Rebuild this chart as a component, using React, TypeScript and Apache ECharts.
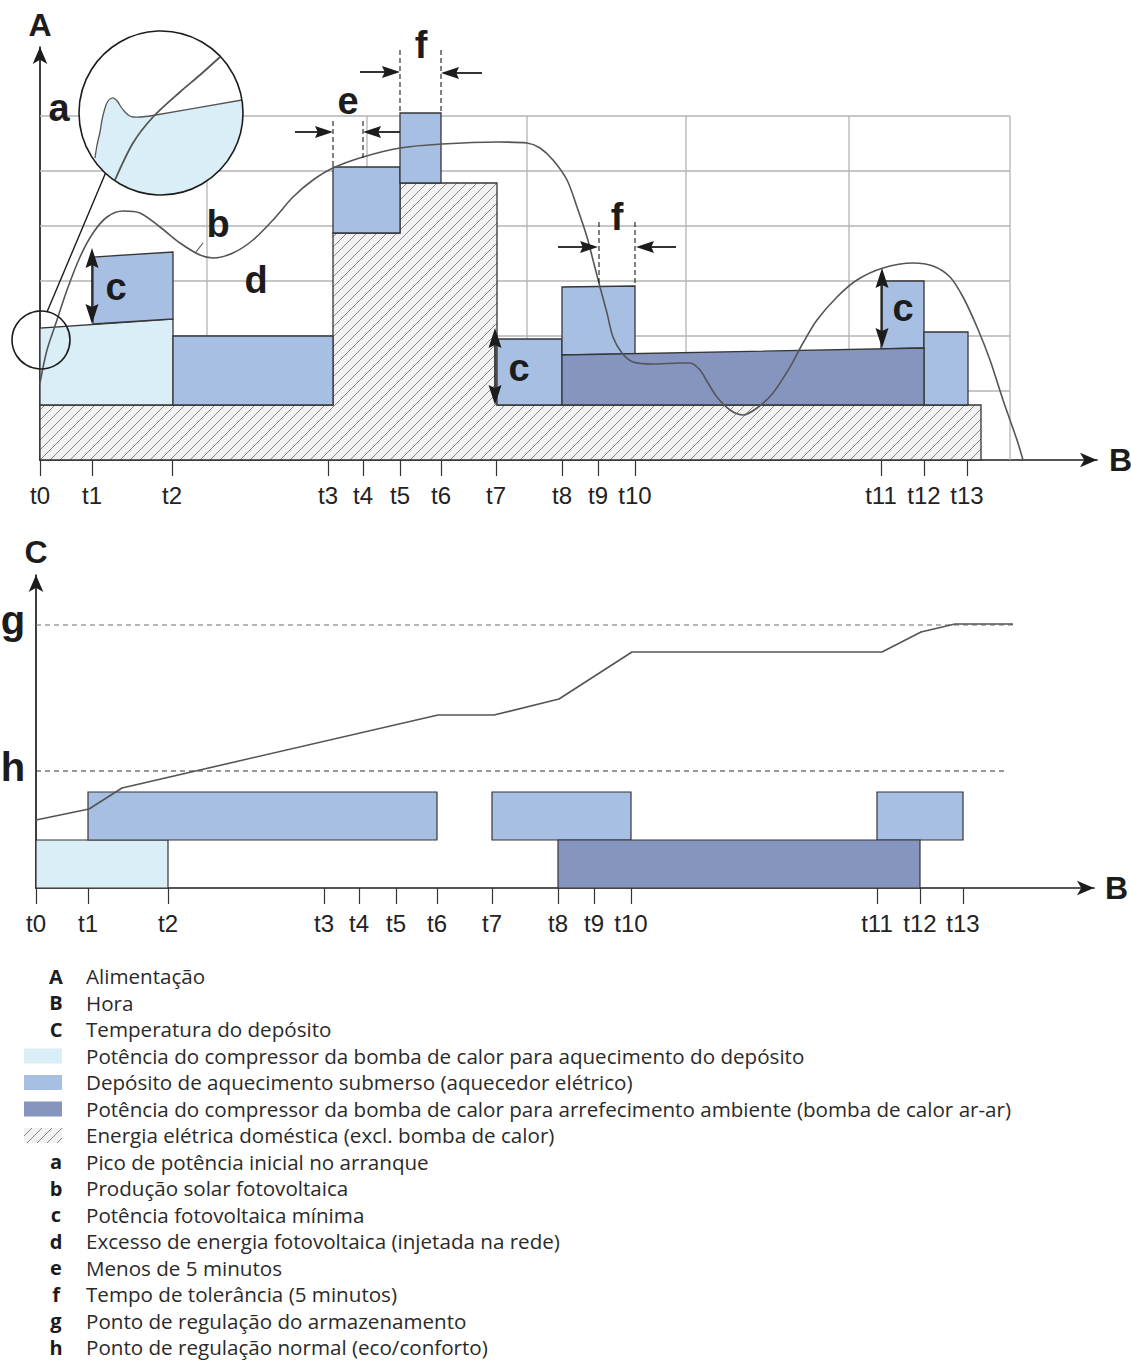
import React, { useEffect, useRef } from 'react';
import * as echarts from 'echarts';

// ---------- shared time ticks ----------
const tickValues = [0, 52, 132, 288, 323, 360, 401, 456, 522, 558, 595, 841, 884, 927];
const tickLabels = ['t0', 't1', 't2', 't3', 't4', 't5', 't6', 't7', 't8', 't9', 't10', 't11', 't12', 't13'];

// ---------- power chart (A vs B) ----------
const householdLoad = [[0, 0], [0, 55], [293, 55], [293, 227], [360, 227], [360, 277], [457, 277], [457, 55], [941, 55], [941, 0]];
const hpHeatingPower = [[0, 55], [0, 132], [133, 141], [133, 55]];
const heaterPower = [
  [[53, 136], [53, 203], [133, 208], [133, 141]],
  [[133, 55], [133, 124], [293, 124], [293, 55]],
  [[293, 227], [293, 293], [360, 293], [360, 227]],
  [[360, 277], [360, 347], [401, 347], [401, 277]],
  [[457, 55], [457, 121], [522, 121], [522, 55]],
  [[522, 105], [522, 173], [595, 174], [595, 106]],
  [[841, 111], [841, 179], [884, 179], [884, 112]],
  [[884, 55], [884, 128], [928, 128], [928, 55]],
];
const hpCoolingPower = [[522, 55], [522, 105], [884, 112], [884, 55]];
const pvProduction = [
  [0, 77], [7, 110], [17, 140], [27, 170], [40, 203], [53, 227], [67, 243], [83, 249], [100, 247],
  [120, 233], [140, 217], [160, 205], [173, 202], [193, 207], [213, 220], [233, 240], [253, 263],
  [273, 280], [293, 292], [323, 303], [360, 312], [402, 316], [457, 318], [487, 317], [500, 312],
  [513, 300], [527, 280], [537, 253], [547, 223], [553, 200], [560, 173], [567, 147], [573, 123],
  [582, 107], [593, 98], [613, 96], [640, 97], [650, 97], [660, 90], [668, 77], [677, 63], [690, 50],
  [703, 45], [717, 52], [733, 67], [750, 93], [763, 117], [777, 140], [797, 163], [817, 180],
  [843, 192], [873, 197], [893, 194], [910, 183], [923, 163], [937, 133], [950, 100], [963, 60],
  [977, 20], [983, 0],
];
const gridRows = [69, 124, 179, 234, 289, 344];
const gridCols = [167, 327, 487, 646, 809, 970];
const gridExtentX = 970;
const gridExtentY = 344;

// magnified start-up detail
const startupPeakZoom = [
  [55, 302], [57, 315], [60, 328], [62, 340], [65, 352], [68, 359], [72, 362], [75, 361], [78, 358],
  [81, 353], [85, 348], [89, 344.5], [93, 343], [101, 343], [110, 344], [202, 360],
];
const pvZoom = [[75, 280], [93, 317], [113, 343], [140, 368], [160, 385], [180, 403]];
const zoomCenter = [121, 347];
const zoomRadius = 82;
const spotCenter = [1, 120];
const spotRadius = 29;
const connector = [[7, 148], [66, 288]];

// ---------- tank temperature chart (C vs B) ----------
const tankTemperature = [[0, 68], [53, 79], [86, 100], [402, 173], [458, 173], [523, 189], [596, 236], [846, 236], [885, 256], [919, 264], [977, 264]];
const storageSetpoint = [[0, 263], [977, 263]];
const normalSetpoint = [[0, 117], [969, 117]];
const hpHeatingOn = [[0, 132]];
const heaterOn = [[52, 401], [456, 595], [841, 927]];
const hpCoolingOn = [[522, 884]];

// ---------- legend ----------
const legendKeys = ['A', 'B', 'C', '', '', '', '', 'a', 'b', 'c', 'd', 'e', 'f', 'g', 'h'];
const legendSwatches = ['', '', '', 'hpHeat', 'heater', 'hpCool', 'household', '', '', '', '', '', '', '', ''];
const legendTexts = [
  'Alimentação',
  'Hora',
  'Temperatura do depósito',
  'Potência do compressor da bomba de calor para aquecimento do depósito',
  'Depósito de aquecimento submerso (aquecedor elétrico)',
  'Potência do compressor da bomba de calor para arrefecimento ambiente (bomba de calor ar-ar)',
  'Energia elétrica doméstica (excl. bomba de calor)',
  'Pico de potência inicial no arranque',
  'Produção solar fotovoltaica',
  'Potência fotovoltaica mínima',
  'Excesso de energia fotovoltaica (injetada na rede)',
  'Menos de 5 minutos',
  'Tempo de tolerância (5 minutos)',
  'Ponto de regulação do armazenamento',
  'Ponto de regulação normal (eco/conforto)',
];

const COL = {
  hpHeat: '#d9eef6',
  heater: '#a6bfe3',
  hpCool: '#8595bf',
  outline: '#363636',
  curve: '#555555',
  grid: '#b4b4b4',
  ink: '#1c1c1c',
};

function makeHatch() {
  const s = 10;
  const cv = document.createElement('canvas');
  cv.width = s;
  cv.height = s;
  const ctx = cv.getContext('2d');
  if (ctx) {
    ctx.fillStyle = '#f1f1f1';
    ctx.fillRect(0, 0, s, s);
    ctx.strokeStyle = '#7a7a7a';
    ctx.lineWidth = 0.9;
    ctx.beginPath();
    ctx.moveTo(0, s); ctx.lineTo(s, 0);
    ctx.moveTo(-2, 2); ctx.lineTo(2, -2);
    ctx.moveTo(s - 2, s + 2); ctx.lineTo(s + 2, s - 2);
    ctx.stroke();
  }
  return { image: cv, repeat: 'repeat', imageWidth: s, imageHeight: s };
}

const BOLD = (size: number) => `bold ${size}px "Liberation Sans", Arial, sans-serif`;

function txt(text: string, x: number, y: number, font: string, align = 'center', color = COL.ink) {
  return {
    type: 'text', z: 120, x, y,
    style: { text, font, fill: color, align, verticalAlign: 'middle', textAlign: align, textVerticalAlign: 'middle' },
  };
}
function seg(x1: number, y1: number, x2: number, y2: number, dash?: number[], w = 1.4, color = COL.ink) {
  return {
    type: 'line', z: 110,
    shape: { x1, y1, x2, y2 },
    style: { stroke: color, lineWidth: w, lineDash: dash || null },
  };
}
function head(tx: number, ty: number, dx: number, dy: number, L = 18, W = 6) {
  const bx = tx - dx * L, by = ty - dy * L;
  const nx = -dy, ny = dx;
  const mx = tx - dx * L * 0.85, my = ty - dy * L * 0.85;
  return {
    type: 'polygon', z: 111,
    shape: { points: [[tx, ty], [bx + nx * W, by + ny * W], [mx, my], [bx - nx * W, by - ny * W]] },
    style: { fill: COL.ink },
  };
}
function hArrow(xTail: number, xTip: number, y: number) {
  const d = xTip > xTail ? 1 : -1;
  return [seg(xTail, y, xTip - d * 10, y, undefined, 1.8), head(xTip, y, d, 0)];
}
function vDouble(x: number, y1: number, y2: number) {
  return [seg(x, y1 + 12, x, y2 - 12, undefined, 1.6), head(x, y1, 0, -1, 20, 6.5), head(x, y2, 0, 1, 20, 6.5)];
}

function buildOption() {
  const hatch = makeHatch();
  const tickFormatter = (v: number) => tickLabels[tickValues.indexOf(v)] ?? '';
  const axisLabelStyle = { fontSize: 24, fontFamily: '"Liberation Sans", Arial, sans-serif', color: '#222' };

  const polySeries = (name: string, polys: number[][][], fill: any, z = 2) => ({
    type: 'custom', name, xAxisIndex: 0, yAxisIndex: 0, z, silent: true,
    data: polys.map((p) => p[0]),
    renderItem: (params: any, api: any) => ({
      type: 'polygon',
      shape: { points: polys[params.dataIndex].map((pt) => api.coord(pt)) },
      style: { fill, stroke: COL.outline, lineWidth: 1.3 },
    }),
  });

  const laneH = 48;
  const barSeries = (name: string, spans: number[][], lane: number, fill: string) => ({
    type: 'custom', name, xAxisIndex: 1, yAxisIndex: 1, z: 2, silent: true,
    data: spans.map((s) => [s[0], s[1]]),
    renderItem: (params: any, api: any) => {
      const s = spans[params.dataIndex];
      const p0 = api.coord([s[0], lane * laneH]);
      const p1 = api.coord([s[1], (lane + 1) * laneH]);
      return {
        type: 'rect',
        shape: { x: p0[0], y: p1[1], width: p1[0] - p0[0], height: p0[1] - p1[1] },
        style: { fill, stroke: COL.outline, lineWidth: 1.2 },
      };
    },
  });

  const gridLines = [
    ...gridRows.map((y) => [0, y, gridExtentX, y]),
    ...gridCols.map((x) => [x, 0, x, gridExtentY]),
  ];

  const series: any[] = [
    {
      type: 'custom', name: 'grid', xAxisIndex: 0, yAxisIndex: 0, z: 1, silent: true,
      data: gridLines,
      renderItem: (params: any, api: any) => {
        const g = gridLines[params.dataIndex];
        const a = api.coord([g[0], g[1]]);
        const b = api.coord([g[2], g[3]]);
        return { type: 'line', shape: { x1: a[0], y1: a[1], x2: b[0], y2: b[1] }, style: { stroke: COL.grid, lineWidth: 1.3 } };
      },
    },
    polySeries('Energia elétrica doméstica', [householdLoad], hatch),
    polySeries('Compressor aquecimento', [hpHeatingPower], COL.hpHeat),
    polySeries('Aquecedor elétrico', heaterPower, COL.heater),
    polySeries('Compressor arrefecimento', [hpCoolingPower], COL.hpCool),
    {
      type: 'line', name: 'Produção solar fotovoltaica', xAxisIndex: 0, yAxisIndex: 0, z: 5,
      data: pvProduction, smooth: 0.3, symbol: 'none', silent: true,
      lineStyle: { color: COL.curve, width: 1.6 },
    },
    {
      type: 'custom', name: 'zoom', xAxisIndex: 0, yAxisIndex: 0, z: 8, silent: true,
      data: [zoomCenter],
      renderItem: (params: any, api: any) => {
        const c = api.coord(zoomCenter);
        const r = api.size([zoomRadius, 0])[0];
        const peak = startupPeakZoom.map((p) => api.coord(p));
        const first = peak[0];
        const last = peak[peak.length - 1];
        const a1 = Math.atan2(last[1] - c[1], last[0] - c[0]);
        let a2 = Math.atan2(first[1] - c[1], first[0] - c[0]);
        if (a2 < a1) a2 += Math.PI * 2;
        const arc: number[][] = [];
        const n = 48;
        for (let i = 1; i < n; i++) {
          const a = a1 + ((a2 - a1) * i) / n;
          arc.push([c[0] + r * Math.cos(a), c[1] + r * Math.sin(a)]);
        }
        const sc = api.coord(spotCenter);
        const sr = api.size([spotRadius, 0])[0];
        const k0 = api.coord(connector[0]);
        const k1 = api.coord(connector[1]);
        return {
          type: 'group',
          children: [
            { type: 'line', shape: { x1: k0[0], y1: k0[1], x2: k1[0], y2: k1[1] }, style: { stroke: COL.ink, lineWidth: 1.4 } },
            { type: 'circle', shape: { cx: c[0], cy: c[1], r }, style: { fill: '#ffffff', stroke: null } },
            { type: 'polygon', shape: { points: [...peak, ...arc] }, style: { fill: COL.hpHeat, stroke: null } },
            { type: 'polyline', shape: { points: peak, smooth: 0.2 }, style: { stroke: COL.curve, lineWidth: 1.3, fill: null } },
            { type: 'polyline', shape: { points: pvZoom.map((p) => api.coord(p)), smooth: 0.3 }, style: { stroke: COL.curve, lineWidth: 1.8, fill: null } },
            { type: 'circle', shape: { cx: c[0], cy: c[1], r }, style: { fill: null, stroke: COL.ink, lineWidth: 1.6 } },
            { type: 'circle', shape: { cx: sc[0], cy: sc[1], r: sr }, style: { fill: null, stroke: COL.ink, lineWidth: 1.6 } },
          ],
        };
      },
    },
    // ---- bottom chart ----
    barSeries('Compressor aquecimento (on)', hpHeatingOn, 0, COL.hpHeat),
    barSeries('Aquecedor elétrico (on)', heaterOn, 1, COL.heater),
    barSeries('Compressor arrefecimento (on)', hpCoolingOn, 0, COL.hpCool),
    {
      type: 'line', name: 'g', xAxisIndex: 1, yAxisIndex: 1, z: 3, data: storageSetpoint, symbol: 'none', silent: true,
      lineStyle: { color: '#6e6e6e', width: 1.2, type: [5, 4] },
    },
    {
      type: 'line', name: 'h', xAxisIndex: 1, yAxisIndex: 1, z: 3, data: normalSetpoint, symbol: 'none', silent: true,
      lineStyle: { color: '#333', width: 1.2, type: [5, 4] },
    },
    {
      type: 'line', name: 'Temperatura do depósito', xAxisIndex: 1, yAxisIndex: 1, z: 5, data: tankTemperature, symbol: 'none', silent: true,
      lineStyle: { color: COL.curve, width: 1.6 },
    },
  ];

  const makeXAxis = (gridIndex: number, max: number, nameGap: number) => ({
    gridIndex, type: 'value', min: 0, max,
    name: 'B', nameLocation: 'end', nameGap,
    nameTextStyle: { fontSize: 32, fontWeight: 'bold', fontFamily: '"Liberation Sans", Arial', color: COL.ink, align: 'left', verticalAlign: 'middle' },
    axisLine: { show: true, onZero: false, symbol: ['none', 'arrow'], symbolSize: [11, 17], lineStyle: { color: COL.ink, width: 1.7 } },
    axisTick: { show: true, customValues: tickValues, length: 16, lineStyle: { color: '#333', width: 1.2 } },
    axisLabel: { show: true, customValues: tickValues, formatter: tickFormatter, margin: 23, ...axisLabelStyle },
    splitLine: { show: false },
  });
  const makeYAxis = (gridIndex: number, max: number, name: string, nameGap: number) => ({
    gridIndex, type: 'value', min: 0, max,
    name, nameLocation: 'end', nameGap,
    nameTextStyle: { fontSize: 32, fontWeight: 'bold', fontFamily: '"Liberation Sans", Arial', color: COL.ink, align: 'center', verticalAlign: 'bottom' },
    axisLine: { show: true, onZero: false, symbol: ['none', 'arrow'], symbolSize: [11, 17], lineStyle: { color: COL.ink, width: 1.7 } },
    axisTick: { show: false },
    axisLabel: { show: false },
    splitLine: { show: false },
  });

  // ---- annotations (pixel layout) ----
  const ann: any[] = [];
  // e
  ann.push(seg(333, 121, 333, 166, [5, 3], 1.1), seg(363, 121, 363, 160, [5, 3], 1.1));
  ann.push(...hArrow(295, 333, 132), ...hArrow(400, 363, 132));
  ann.push(txt('e', 348, 101, BOLD(38)));
  // f (top)
  ann.push(seg(400, 50, 400, 113, [5, 3], 1.1), seg(441, 50, 441, 113, [5, 3], 1.1));
  ann.push(...hArrow(360, 400, 72), ...hArrow(482, 441, 73));
  ann.push(txt('f', 421, 45, BOLD(38)));
  // f (lower)
  ann.push(seg(599, 222, 599, 283, [5, 3], 1.1), seg(635, 222, 635, 286, [5, 3], 1.1));
  ann.push(...hArrow(558, 598, 247), ...hArrow(676, 636, 247));
  ann.push(txt('f', 617, 217, BOLD(38)));
  // c markers
  ann.push(...vDouble(92, 248, 324), txt('c', 116, 287, BOLD(38)));
  ann.push(...vDouble(495, 328, 405), txt('c', 519, 368, BOLD(38)));
  ann.push(...vDouble(882, 268, 348), txt('c', 903, 308, BOLD(38)));
  // a, b, d
  ann.push(txt('a', 59, 108, BOLD(38)));
  ann.push(txt('b', 218, 224, BOLD(38)), seg(203, 243, 196, 252, undefined, 1.2, '#555'));
  ann.push(txt('d', 256, 280, BOLD(38)));
  // g, h
  ann.push(txt('g', 13, 620, BOLD(40)), txt('h', 13, 767, BOLD(40)));

  // ---- legend ----
  const swatchFill: any = { hpHeat: COL.hpHeat, heater: COL.heater, hpCool: COL.hpCool, household: hatch };
  legendTexts.forEach((t, i) => {
    const y = 976 + i * 26.5;
    if (legendKeys[i]) ann.push(txt(legendKeys[i], 56, y, 'bold 20px "Open Sans", "Noto Sans", sans-serif'));
    if (legendSwatches[i]) {
      ann.push({ type: 'rect', z: 120, shape: { x: 24, y: y - 7, width: 38, height: 15 }, style: { fill: swatchFill[legendSwatches[i]], stroke: null } });
    }
    ann.push(txt(t, 86, y, '20.6px "Open Sans", "Noto Sans", sans-serif', 'left', '#2a2a2a'));
  });

  return {
    animation: false,
    backgroundColor: '#ffffff',
    grid: [
      { left: 40, top: 47, width: 1057, height: 413, outerBoundsMode: 'none', containLabel: false },
      { left: 36, top: 575, width: 1058, height: 313, outerBoundsMode: 'none', containLabel: false },
    ],
    xAxis: [makeXAxis(0, 1057, 12), makeXAxis(1, 1058, 11)],
    yAxis: [makeYAxis(0, 413, 'A', 6), makeYAxis(1, 313, 'C', 7)],
    series,
    graphic: ann,
  };
}

export default function App() {
  const ref = useRef<HTMLDivElement>(null);
  useEffect(() => {
    document.body.style.margin = '0';
    if (!ref.current) return;
    const chart = echarts.init(ref.current, null, { renderer: 'svg', width: 1131, height: 1360 });
    chart.setOption(buildOption() as any);
    return () => chart.dispose();
  }, []);
  return <div ref={ref} style={{ width: 1131, height: 1360 }} />;
}
